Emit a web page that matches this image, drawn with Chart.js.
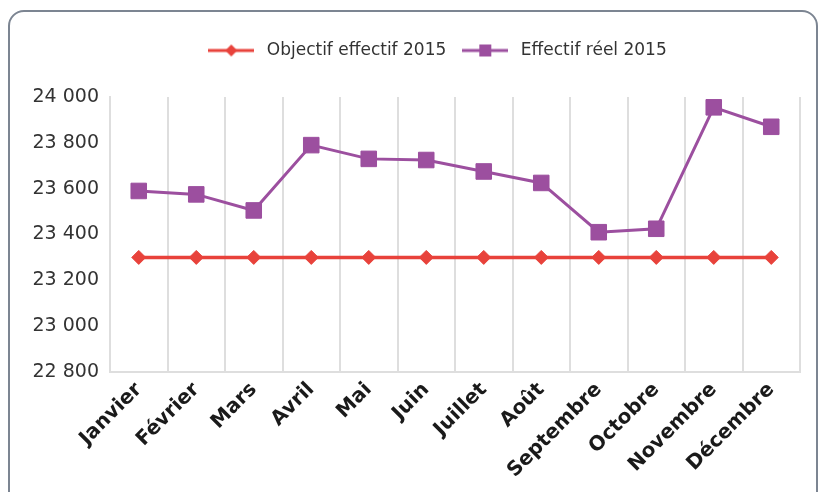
<!DOCTYPE html>
<html>
<head>
<meta charset="utf-8">
<script src="https://cdn.jsdelivr.net/npm/chart.js@4.4.0/dist/chart.umd.min.js"></script>
<style>
  html, body { margin: 0; padding: 0; background: #fff; }
  #wrap { position: relative; width: 826px; height: 492px; overflow: hidden; }
  #frame { position: absolute; left: 8px; top: 10px; width: 810px; height: 540px;
           border: 2px solid #7c8592; border-radius: 16px; box-sizing: border-box; }
  #chart { position: absolute; left: 0; top: 0; }
</style>
</head>
<body>
<div id="wrap">
  <div id="frame"></div>
  <canvas id="chart" width="826" height="492"></canvas>
</div>
<script>
// Data
const months = ["Janvier", "Février", "Mars", "Avril", "Mai", "Juin", "Juillet", "Août", "Septembre", "Octobre", "Novembre", "Décembre"];
const objectif = [23300, 23300, 23300, 23300, 23300, 23300, 23300, 23300, 23300, 23300, 23300, 23300];
const effectif = [23590, 23575, 23505, 23790, 23730, 23725, 23675, 23625, 23410, 23425, 23955, 23870];
const yMin = 22800;
const yMax = 24000;
const yStep = 200;

const RED = "#e8423b";
const PURPLE = "#9c4f9f";

// legend icon: short line with the marker in the middle
function legendIcon(color, shape) {
  const c = document.createElement("canvas");
  c.width = 46;
  c.height = 14;
  const ctx = c.getContext("2d");
  ctx.strokeStyle = color;
  ctx.fillStyle = color;
  ctx.lineWidth = 3;
  ctx.beginPath();
  ctx.moveTo(0, 7);
  ctx.lineTo(46, 7);
  ctx.stroke();
  ctx.beginPath();
  if (shape === "diamond") {
    ctx.moveTo(23, 1); ctx.lineTo(29, 7); ctx.lineTo(23, 13); ctx.lineTo(17, 7);
  } else {
    ctx.rect(17, 1, 12, 12);
  }
  ctx.fill();
  return c;
}
const icons = [legendIcon(RED, "diamond"), legendIcon(PURPLE, "square")];

// extra room under the legend, and legend centred a bit to the right
const legendTweak = {
  id: "legendTweak",
  beforeInit(chart) {
    const fit = chart.legend.fit;
    chart.legend.fit = function () {
      fit.bind(chart.legend)();
      this.height += 28;
    };
  },
  afterLayout(chart) {
    chart.legend.left += 71;
  }
};

const fmt = v => String(v).replace(/\B(?=(\d{3})+(?!\d))/g, " ");

new Chart(document.getElementById("chart"), {
  type: "line",
  data: {
    labels: months,
    datasets: [
      {
        label: "Objectif effectif 2015",
        data: objectif,
        borderColor: RED,
        backgroundColor: RED,
        borderWidth: 3.5,
        pointStyle: "rectRot",
        pointRadius: 7,
        pointBorderWidth: 1,
        tension: 0,
      },
      {
        label: "Effectif réel 2015",
        data: effectif,
        borderColor: PURPLE,
        backgroundColor: PURPLE,
        borderWidth: 3,
        pointStyle: "rect",
        pointRadius: 11,
        pointBorderWidth: 1,
        tension: 0,
      },
    ],
  },
  options: {
    responsive: false,
    animation: false,
    devicePixelRatio: 1,
    layout: { padding: { top: 30, left: 0, right: 26, bottom: 0 } },
    plugins: {
      tooltip: { enabled: false },
      legend: {
        position: "top",
        labels: {
          usePointStyle: true,
          pointStyleWidth: 54,
          padding: 12,
          color: "#333",
          font: { family: "DejaVu Sans", size: 17 },
          generateLabels(chart) {
            const items = Chart.defaults.plugins.legend.labels.generateLabels(chart);
            items.forEach((it, i) => { it.pointStyle = icons[i]; });
            return items;
          },
        },
      },
    },
    scales: {
      x: {
        offset: true,
        grid: { offset: true, color: "#dedede", lineWidth: 2, drawTicks: false },
        border: { display: true, color: "#dedede", width: 2 },
        ticks: {
          autoSkip: false,
          minRotation: 45,
          maxRotation: 45,
          padding: 6,
          color: "#1a1a1a",
          font: { family: "DejaVu Sans", size: 20, weight: "bold" },
        },
        afterFit(s) { s.height = 120; },
      },
      y: {
        min: yMin,
        max: yMax,
        grid: { display: false },
        border: { display: true, color: "#dedede", width: 2 },
        ticks: {
          stepSize: yStep,
          padding: 3,
          color: "#333",
          font: { family: "DejaVu Sans", size: 19 },
          callback: v => fmt(v),
        },
        afterFit(s) { s.width = 110; },
      },
    },
  },
  plugins: [legendTweak],
});
</script>
</body>
</html>
